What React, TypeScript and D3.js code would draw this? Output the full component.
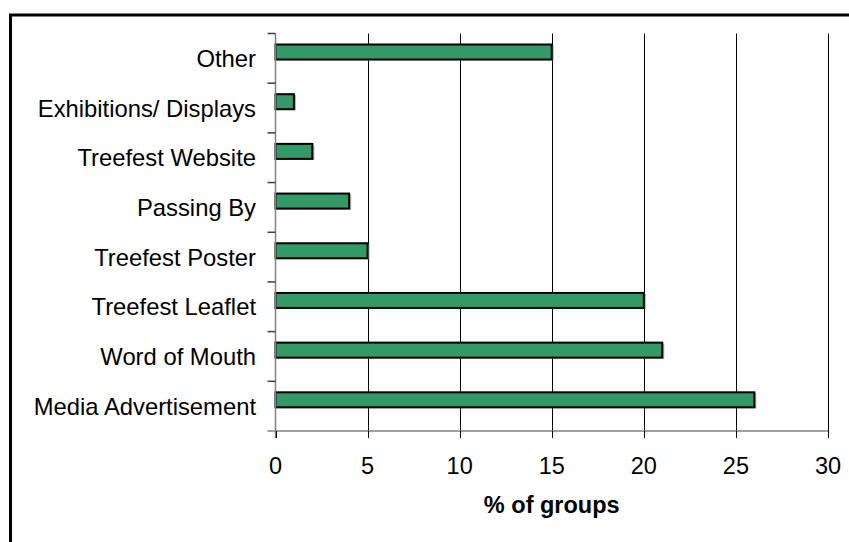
import React from "react";
import * as d3 from "d3";

const categories = [
  "Other",
  "Exhibitions/ Displays",
  "Treefest Website",
  "Passing By",
  "Treefest Poster",
  "Treefest Leaflet",
  "Word of Mouth",
  "Media Advertisement",
];
const values = [15, 1, 2, 4, 5, 20, 21, 26];
const xTicks = [0, 5, 10, 15, 20, 25, 30];
const xTitle = "% of groups";

const W = 849;
const H = 542;
const left = 275.5;
const right = 828;
const top = 33.5;
const bottom = 431;
const font = "'Liberation Sans', Arial, sans-serif";

export default function App() {
  const x = d3.scaleLinear().domain([0, 30]).range([left, right]);
  const y = d3.scaleBand<string>().domain(categories).range([top, bottom]).paddingInner(0).paddingOuter(0);
  const bw = y.bandwidth();
  const barH = 15;
  const barOff = 11;
  const bounds = categories.map((c) => y(c)!).concat([bottom]);

  return (
    <svg width={W} height={H} style={{ position: "absolute", left: 0, top: 0, display: "block" }}>
      <rect x={0} y={0} width={W} height={H} fill="#fff" />
      <rect x={10.5} y={15} width={900} height={600} fill="none" stroke="#000" strokeWidth={3} />
      {/* gridlines */}
      {xTicks.slice(1).map((t) => (
        <line key={"g" + t} x1={Math.round(x(t)) + 0.5} x2={Math.round(x(t)) + 0.5} y1={top} y2={bottom} stroke="#000" strokeWidth={1} />
      ))}
      {/* bars */}
      {categories.map((c, i) => (
        <g key={c}>
          <rect x={x(0) + 1} y={y(c)! + barOff + 1} width={x(values[i]) - x(0) + 1} height={barH} fill="#b0b0b0" />
          <rect x={x(0)} y={y(c)! + barOff} width={x(values[i]) - x(0)} height={barH} fill="#339966" stroke="#000" strokeWidth={2} />
        </g>
      ))}
      {/* axes */}
      <line x1={left} x2={left} y1={top} y2={bottom + 7} stroke="#808080" strokeWidth={1.5} />
      <line x1={left - 8} x2={right} y1={bottom} y2={bottom} stroke="#808080" strokeWidth={1.5} />
      {bounds.slice(0, -1).map((b, i) => (
        <line key={"yt" + i} x1={left - 8} x2={left} y1={b} y2={b} stroke="#404040" strokeWidth={1.5} />
      ))}
      {xTicks.map((t) => (
        <line key={"xt" + t} x1={Math.round(x(t)) + 0.5} x2={Math.round(x(t)) + 0.5} y1={bottom} y2={bottom + 7} stroke="#000" strokeWidth={1} />
      ))}
      {/* labels */}
      {categories.map((c) => (
        <text key={"l" + c} x={256} y={y(c)! + bw / 2} textAnchor="end" dominantBaseline="central" fontFamily={font} fontSize={23.8} fill="#000">
          {c}
        </text>
      ))}
      {xTicks.map((t) => (
        <text key={"xl" + t} x={x(t)} y={473.5} textAnchor="middle" fontFamily={font} fontSize={23.5} fill="#000">
          {t}
        </text>
      ))}
      <text x={(left + right) / 2} y={513} textAnchor="middle" fontFamily={font} fontSize={23.5} fontWeight="bold" fill="#000">
        {xTitle}
      </text>
    </svg>
  );
}
